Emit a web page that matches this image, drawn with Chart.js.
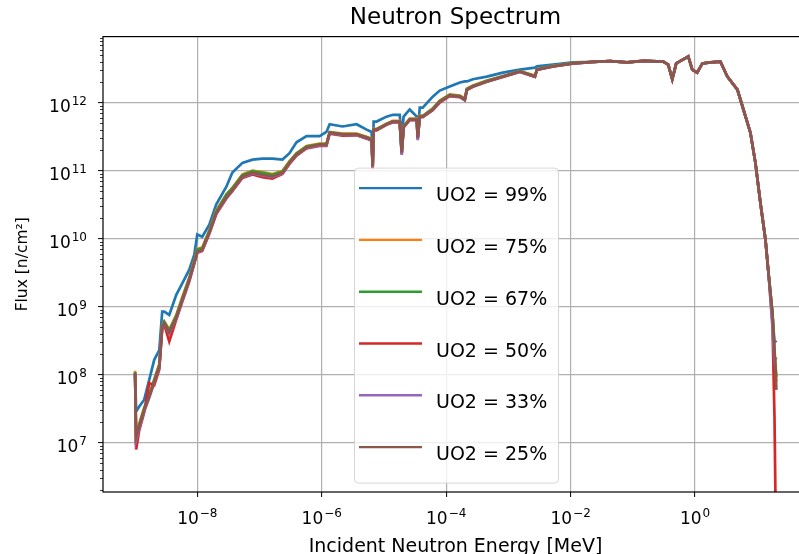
<!DOCTYPE html>
<html>
<head>
<meta charset="utf-8">
<script src="https://cdn.jsdelivr.net/npm/chart.js@4/dist/chart.umd.min.js"></script>
<style>
html,body{margin:0;padding:0;background:#fff;overflow:hidden;}
canvas{display:block;}
</style>
</head>
<body>
<canvas id="c" width="820" height="562"></canvas>
<script>
// ---- data ----
const energy = [
  1.0e-9, 1.04e-9, 1.16e-9, 1.40e-9, 1.69e-9, 2.03e-9, 2.45e-9, 2.73e-9, 2.94e-9, 3.54e-9,
  4.59e-9, 5.73e-9, 7.43e-9, 8.95e-9, 1.0e-8, 1.20e-8, 1.56e-8, 2.02e-8, 2.93e-8, 3.66e-8,
  5.31e-8, 7.69e-8, 1.11e-7, 1.61e-7, 2.34e-7, 3.03e-7, 3.93e-7, 5.69e-7, 9.22e-7, 1.19e-6,
  1.34e-6, 2.16e-6, 3.63e-6, 5.26e-6, 6.34e-6, 6.58e-6, 6.82e-6, 7.62e-6, 1.10e-5, 1.38e-5,
  1.79e-5, 1.93e-5, 2.07e-5, 2.59e-5, 3.36e-5, 3.49e-5, 3.76e-5, 4.20e-5, 6.08e-5, 7.88e-5,
  1.14e-4, 1.66e-4, 1.99e-4, 2.15e-4, 2.68e-4, 4.51e-4, 8.15e-4, 1.53e-3, 2.67e-3, 2.88e-3,
  5.21e-3, 1.09e-2, 2.30e-2, 4.31e-2, 8.09e-2, 0.147, 0.308, 0.370, 0.430, 0.498,
  0.645, 0.777, 0.901, 1.08, 1.31, 1.76, 2.55, 3.30, 4.79, 5.98,
  7.75, 9.33, 11.2, 13.5, 15.1, 17.5, 18.9, 20.3
];

const flux99 = [
  1.07e8, 2.9e7, 3.4e7, 4.3e7, 8.5e7, 1.66e8, 2.3e8, 8.5e8, 8.5e8, 7.6e8,
  1.5e9, 2.2e9, 3.5e9, 5.8e9, 1.15e10, 1.07e10, 1.6e10, 3.2e10, 5.8e10, 9.4e10,
  1.3e11, 1.45e11, 1.5e11, 1.5e11, 1.45e11, 1.8e11, 2.6e11, 3.2e11, 3.2e11, 3.7e11,
  4.8e11, 4.45e11, 4.8e11, 4.0e11, 3.7e11, 1.15e11, 5.25e11, 5.25e11, 6.2e11, 6.6e11,
  6.6e11, 3.2e11, 6.2e11, 7.9e11, 6.2e11, 3.7e11, 8.4e11, 8.4e11, 1.22e12, 1.5e12,
  1.72e12, 1.97e12, 2.04e12, 2.04e12, 2.2e12, 2.4e12, 2.75e12, 3.05e12, 3.25e12, 3.4e12,
  3.6e12, 3.9e12, 3.95e12, 4.05e12, 3.9e12, 4.1e12, 4.0e12, 3.6e12, 2.2e12, 3.75e12,
  4.3e12, 4.75e12, 3.05e12, 2.75e12, 3.75e12, 3.9e12, 4.0e12, 2.4e12, 1.55e12, 7.9e11,
  3.6e11, 1.3e11, 3.4e10, 9.8e9, 3.2e9, 8.1e8, 3.0e8, 3.2e8
];
const flux75 = [
  1.15e8, 1.0e7, 1.9e7, 3.3e7, 5.2e7, 8.6e7, 1.45e8, 5.4e8, 6.1e8, 4.6e8,
  7.6e8, 1.38e9, 2.7e9, 4.8e9, 7.1e9, 7.4e9, 1.33e10, 2.6e10, 4.5e10, 5.6e10,
  8.8e10, 1.0e11, 9.5e10, 8.9e10, 9.9e10, 1.38e11, 1.8e11, 2.3e11, 2.5e11, 2.5e11,
  3.7e11, 3.5e11, 3.5e11, 3.15e11, 2.95e11, 1.2e11, 4.1e11, 4.1e11, 4.9e11, 5.4e11,
  5.4e11, 1.9e11, 4.5e11, 5.8e11, 5.8e11, 3.1e11, 6.4e11, 6.4e11, 8.2e11, 1.07e12,
  1.32e12, 1.27e12, 1.15e12, 1.6e12, 1.78e12, 2.1e12, 2.45e12, 2.9e12, 2.5e12, 3.1e12,
  3.45e12, 3.8e12, 3.95e12, 4.05e12, 3.9e12, 4.1e12, 4.0e12, 3.6e12, 2.2e12, 3.75e12,
  4.3e12, 4.75e12, 3.05e12, 2.75e12, 3.75e12, 3.9e12, 4.0e12, 2.4e12, 1.55e12, 7.9e11,
  3.6e11, 1.3e11, 3.4e10, 9.8e9, 3.2e9, 8.1e8, 2.4e8, 7.9e7
];
const flux67 = [
  1.1e8, 9.0e6, 1.8e7, 3.2e7, 5.0e7, 8.3e7, 1.4e8, 5.3e8, 6.0e8, 4.5e8,
  7.3e8, 1.33e9, 2.6e9, 4.7e9, 6.9e9, 7.2e9, 1.3e10, 2.5e10, 4.4e10, 5.5e10,
  8.6e10, 9.8e10, 9.3e10, 8.7e10, 9.7e10, 1.35e11, 1.78e11, 2.25e11, 2.45e11, 2.45e11,
  3.65e11, 3.45e11, 3.45e11, 3.1e11, 2.9e11, 1.1e11, 4.05e11, 4.05e11, 4.85e11, 5.3e11,
  5.3e11, 1.8e11, 4.45e11, 5.7e11, 5.7e11, 3.0e11, 6.3e11, 6.3e11, 8.1e11, 1.05e12,
  1.3e12, 1.25e12, 1.12e12, 1.58e12, 1.75e12, 2.08e12, 2.42e12, 2.88e12, 2.45e12, 3.08e12,
  3.42e12, 3.78e12, 3.95e12, 4.05e12, 3.9e12, 4.1e12, 4.0e12, 3.6e12, 2.2e12, 3.75e12,
  4.3e12, 4.75e12, 3.05e12, 2.75e12, 3.75e12, 3.9e12, 4.0e12, 2.4e12, 1.55e12, 7.9e11,
  3.6e11, 1.3e11, 3.4e10, 9.8e9, 3.2e9, 8.3e8, 2.0e8, 9.3e7
];
const flux50 = [
  1.0e8, 8.0e6, 1.5e7, 2.8e7, 7.6e7, 7.0e7, 1.2e8, 4.8e8, 5.5e8, 3.1e8,
  6.5e8, 1.18e9, 2.35e9, 4.3e9, 6.2e9, 6.6e9, 1.18e10, 2.3e10, 3.9e10, 5.0e10,
  7.8e10, 8.8e10, 8.0e10, 7.6e10, 8.9e10, 1.25e11, 1.66e11, 2.12e11, 2.3e11, 2.3e11,
  3.5e11, 3.25e11, 3.3e11, 2.95e11, 2.75e11, 1.05e11, 3.9e11, 3.9e11, 4.7e11, 5.1e11,
  5.1e11, 1.75e11, 4.3e11, 5.5e11, 5.5e11, 2.9e11, 6.1e11, 6.1e11, 7.7e11, 1.0e12,
  1.24e12, 1.2e12, 1.08e12, 1.52e12, 1.7e12, 2.02e12, 2.38e12, 2.82e12, 2.38e12, 3.02e12,
  3.38e12, 3.72e12, 3.95e12, 4.05e12, 3.9e12, 4.1e12, 4.0e12, 3.6e12, 2.2e12, 3.75e12,
  4.3e12, 4.75e12, 3.05e12, 2.75e12, 3.75e12, 3.9e12, 4.0e12, 2.4e12, 1.55e12, 7.9e11,
  3.6e11, 1.3e11, 3.4e10, 9.8e9, 3.2e9, 6.0e8, 2.4e7, 1.0e5
];
const flux33 = [
  1.05e8, 1.1e7, 1.6e7, 2.9e7, 4.6e7, 7.6e7, 1.28e8, 5.0e8, 5.7e8, 4.1e8,
  6.7e8, 1.22e9, 2.45e9, 4.4e9, 6.4e9, 6.8e9, 1.21e10, 2.35e10, 4.0e10, 5.1e10,
  8.0e10, 9.1e10, 8.5e10, 8.0e10, 9.1e10, 1.28e11, 1.7e11, 2.15e11, 2.35e11, 2.35e11,
  3.55e11, 3.35e11, 3.35e11, 3.0e11, 2.8e11, 1.1e11, 3.95e11, 3.95e11, 4.75e11, 5.2e11,
  5.2e11, 1.7e11, 4.35e11, 5.55e11, 5.55e11, 2.8e11, 6.15e11, 6.15e11, 7.8e11, 1.02e12,
  1.26e12, 1.21e12, 1.09e12, 1.54e12, 1.71e12, 2.03e12, 2.39e12, 2.84e12, 2.39e12, 3.04e12,
  3.39e12, 3.74e12, 3.95e12, 4.05e12, 3.9e12, 4.1e12, 4.0e12, 3.6e12, 2.2e12, 3.75e12,
  4.3e12, 4.75e12, 3.05e12, 2.75e12, 3.75e12, 3.9e12, 4.0e12, 2.4e12, 1.55e12, 7.9e11,
  3.6e11, 1.3e11, 3.4e10, 9.8e9, 3.2e9, 5.0e8, 1.6e8, 1.8e8
];
const flux25 = [
  1.07e8, 1.23e7, 1.72e7, 3.05e7, 4.8e7, 7.9e7, 1.32e8, 5.1e8, 5.8e8, 4.2e8,
  6.9e8, 1.26e9, 2.5e9, 4.5e9, 6.5e9, 6.9e9, 1.23e10, 2.4e10, 4.1e10, 5.2e10,
  8.2e10, 9.3e10, 8.7e10, 8.2e10, 9.3e10, 1.3e11, 1.72e11, 2.2e11, 2.4e11, 2.4e11,
  3.6e11, 3.4e11, 3.4e11, 3.05e11, 2.85e11, 1.15e11, 4.0e11, 4.0e11, 4.8e11, 5.25e11,
  5.25e11, 1.84e11, 4.4e11, 5.6e11, 5.6e11, 3.05e11, 6.2e11, 6.2e11, 7.9e11, 1.03e12,
  1.27e12, 1.22e12, 1.1e12, 1.55e12, 1.72e12, 2.04e12, 2.4e12, 2.85e12, 2.4e12, 3.05e12,
  3.4e12, 3.75e12, 3.95e12, 4.05e12, 3.9e12, 4.1e12, 4.0e12, 3.6e12, 2.2e12, 3.75e12,
  4.3e12, 4.75e12, 3.05e12, 2.75e12, 3.75e12, 3.9e12, 4.0e12, 2.4e12, 1.55e12, 7.9e11,
  3.6e11, 1.3e11, 3.4e10, 9.8e9, 3.2e9, 8.1e8, 2.3e8, 6.0e7
];

const seriesLabels = ['UO2 = 99%', 'UO2 = 75%', 'UO2 = 67%', 'UO2 = 50%', 'UO2 = 33%', 'UO2 = 25%'];
const seriesFlux = [flux99, flux75, flux67, flux50, flux33, flux25];
const seriesColors = ['#1f77b4', '#ff7f0e', '#2ca02c', '#d62728', '#9467bd', '#8c564b'];

// tick positions and their labels (base "10" with the exponent as superscript)
const xTicks = [1e-8, 1e-6, 1e-4, 1e-2, 1];
const xTickExponents = ['\u22128', '\u22126', '\u22124', '\u22122', '0'];
const yTicks = [1e7, 1e8, 1e9, 1e10, 1e11, 1e12];
const yTickExponents = ['7', '8', '9', '10', '11', '12'];
const yMinorSubs = [2, 3, 4, 5, 6, 7, 8, 9];

const titleText = 'Neutron Spectrum';
const xTitle = 'Incident Neutron Energy [MeV]';
const yTitle = 'Flux [n/cm\u00B2]';

// ---- chart ----
Chart.defaults.font.family = "'DejaVu Sans', sans-serif";
Chart.defaults.color = '#000';

const BASE_FONT = "17px 'DejaVu Sans'";
const EXP_FONT = "12px 'DejaVu Sans'";

const tickLabelPlugin = {
  id: 'mathTicks',
  afterDraw(chart) {
    const {ctx, chartArea: a} = chart;
    const xs = chart.scales.x, ys = chart.scales.y;
    ctx.save();
    ctx.fillStyle = '#000';
    ctx.textBaseline = 'alphabetic';
    ctx.textAlign = 'left';
    // x ticks: centred under the tick
    xTicks.forEach((v, i) => {
      const px = xs.getPixelForValue(v);
      ctx.font = BASE_FONT; const wb = ctx.measureText('10').width;
      ctx.font = EXP_FONT; const we = ctx.measureText(xTickExponents[i]).width;
      const x0 = px - (wb + we + 1) / 2;
      const base = a.bottom + 32;
      ctx.font = BASE_FONT; ctx.fillText('10', x0, base);
      ctx.font = EXP_FONT; ctx.fillText(xTickExponents[i], x0 + wb + 1, base - 7);
    });
    // y ticks: right aligned left of the axis
    yTicks.forEach((v, i) => {
      const py = ys.getPixelForValue(v);
      ctx.font = BASE_FONT; const wb = ctx.measureText('10').width;
      ctx.font = EXP_FONT; const we = ctx.measureText(yTickExponents[i]).width;
      const xr = a.left - 16;
      const base = py + 9;
      ctx.font = EXP_FONT; ctx.fillText(yTickExponents[i], xr - we, base - 7);
      ctx.font = BASE_FONT; ctx.fillText('10', xr - we - 1 - wb, base);
    });
    ctx.restore();
  }
};

const framePlugin = {
  id: 'frame',
  afterDatasetsDraw(chart) {
    const {ctx, chartArea: a} = chart;
    ctx.save();
    ctx.strokeStyle = '#000';
    ctx.lineWidth = 1.2;
    ctx.strokeRect(a.left, a.top, a.right - a.left, a.bottom - a.top);
    // minor ticks on the y axis
    const ys = chart.scales.y;
    ctx.lineWidth = 0.8;
    ctx.beginPath();
    for (let d = 6; d <= 12; d++) {
      for (const m of yMinorSubs) {
        const v = m * Math.pow(10, d);
        if (v < ys.min || v > ys.max) continue;
        const py = Math.round(ys.getPixelForValue(v)) + 0.5;
        ctx.moveTo(a.left - 3, py);
        ctx.lineTo(a.left, py);
      }
    }
    ctx.stroke();
    ctx.restore();
  }
};

const legendPlugin = {
  id: 'boxLegend',
  afterDatasetsDraw(chart) {
    const {ctx, chartArea: a} = chart;
    const bx = a.left + 251.5, by = a.top + 131.5, bw = 204, bh = 315;
    ctx.save();
    ctx.beginPath();
    ctx.roundRect(bx, by, bw, bh, 4);
    ctx.fillStyle = 'rgba(255,255,255,0.8)';
    ctx.fill();
    ctx.strokeStyle = 'rgba(204,204,204,0.8)';
    ctx.lineWidth = 1;
    ctx.stroke();
    ctx.font = "19px 'DejaVu Sans'";
    ctx.textBaseline = 'alphabetic';
    ctx.textAlign = 'left';
    chart.data.datasets.forEach((ds, i) => {
      const ly = by + 20 + i * 51.8;
      ctx.strokeStyle = ds.borderColor;
      ctx.lineWidth = 2.4;
      ctx.beginPath();
      ctx.moveTo(bx + 4.5, ly);
      ctx.lineTo(bx + 67.5, ly);
      ctx.stroke();
      ctx.fillStyle = '#000';
      ctx.fillText(ds.label, bx + 81.5, ly + 13);
    });
    ctx.restore();
  }
};

new Chart(document.getElementById('c'), {
  type: 'line',
  data: {
    datasets: seriesLabels.map((lab, k) => ({
      label: lab,
      data: energy.map((e, i) => ({x: e, y: seriesFlux[k][i]})),
      borderColor: seriesColors[k],
      backgroundColor: seriesColors[k],
      borderWidth: 2.7,
      pointRadius: 0,
      tension: 0,
      fill: false,
      order: 5 - k,
      clip: 0
    }))
  },
  options: {
    responsive: false,
    animation: false,
    events: [],
    layout: {padding: {left: 0, right: 12, top: 0, bottom: 4}},
    plugins: {
      legend: {display: false},
      tooltip: {enabled: false},
      title: {
        display: true, text: titleText, fullSize: false, color: '#000',
        font: {size: 23, weight: 'normal'},
        padding: {top: 4, bottom: 5}
      }
    },
    scales: {
      x: {
        type: 'logarithmic', position: 'bottom', min: 3.05e-10, max: 65.3,
        afterBuildTicks: s => { s.ticks = xTicks.map(v => ({value: v})); },
        afterFit: s => { s.height = 66; },
        ticks: {display: false, autoSkip: false},
        grid: {color: '#b0b0b0', lineWidth: 1.2, tickColor: '#000', tickLength: 5, tickWidth: 1},
        border: {display: false},
        title: {display: true, text: xTitle, color: '#000', font: {size: 19}, padding: {top: 0, bottom: 0}}
      },
      y: {
        type: 'logarithmic', position: 'left', min: 1.9e6, max: 9.3e12,
        afterBuildTicks: s => { s.ticks = yTicks.map(v => ({value: v})); },
        afterFit: s => { s.width = 103; },
        ticks: {display: false, autoSkip: false},
        grid: {color: '#b0b0b0', lineWidth: 1.2, tickColor: '#000', tickLength: 5, tickWidth: 1},
        border: {display: false},
        title: {display: true, text: yTitle, color: '#000', font: {size: 15.5}, padding: {top: 14, bottom: 0}}
      }
    }
  },
  plugins: [framePlugin, legendPlugin, tickLabelPlugin]
});
</script>
</body>
</html>
